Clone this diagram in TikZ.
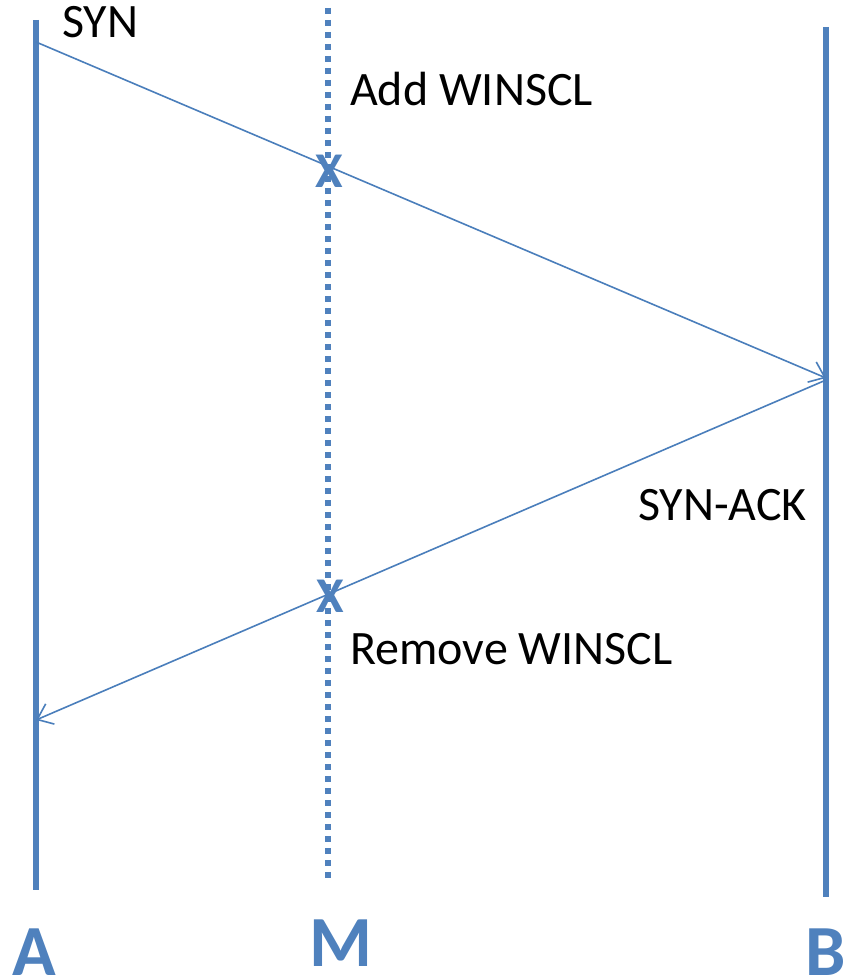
\documentclass[tikz,border=0pt]{standalone}
\usepackage{fontspec}
\setmainfont{Carlito}
\usetikzlibrary{arrows.meta}
\definecolor{lineblue}{HTML}{4F81BD}
\definecolor{msgblue}{HTML}{4A7EBB}
\begin{document}
\begin{tikzpicture}[x=1pt,y=-1pt,
  host/.style={draw=lineblue,line width=6pt},
  mbox/.style={draw=lineblue,line width=6pt,dash pattern=on 6pt off 6pt},
  msg/.style={draw=msgblue,line width=1.6pt,-{Straight Barb[length=14pt,width=22pt,line width=1.6pt]}},
  lbl/.style={font=\fontsize{48}{56}\selectfont,anchor=base west,inner sep=0pt},
  ends/.style={font=\fontsize{72}{80}\bfseries\selectfont,text=lineblue,anchor=base,inner sep=0pt,text depth=0pt},
  xmark/.style={font=\fontsize{50}{60}\bfseries\selectfont,text=lineblue,inner sep=0pt}]
\useasboundingbox (0,0) rectangle (844,979);
% participant lifelines
\coordinate (Atop) at (36,20);   \coordinate (Abot) at (36,890);
\coordinate (Mtop) at (328,8);   \coordinate (Mbot) at (328,878);
\coordinate (Btop) at (826,27);  \coordinate (Bbot) at (826,897);
\draw[host] (Atop) -- (Abot);
\draw[mbox] (Mtop) -- (Mbot);
\draw[host] (Btop) -- (Bbot);
% message endpoints
\coordinate (synS) at (36,42);
\coordinate (synE) at (826,378);
\coordinate (ackS) at (826,380);
\coordinate (ackE) at (36,720);
\draw[msg] (synS) -- (synE);
\draw[msg] (ackS) -- (ackE);
% middlebox interception marks
\node[xmark] (x1) at (329,171) {X};
\node[xmark] (x2) at (330,596) {X};
% labels
\node[lbl] (lsyn) at (62,38) {SYN};
\node[lbl] (ladd) at (350,106) {Add WINSCL};
\node[lbl] (lack) at (638,520) {SYN-ACK};
\node[lbl] (lrem) at (350,664) {Remove WINSCL};
\node[ends] (nA) at (34,975) {A};
\node[ends] (nM) at (341,966) {M};
\node[ends] (nB) at (826,975) {B};
\end{tikzpicture}
\end{document}
